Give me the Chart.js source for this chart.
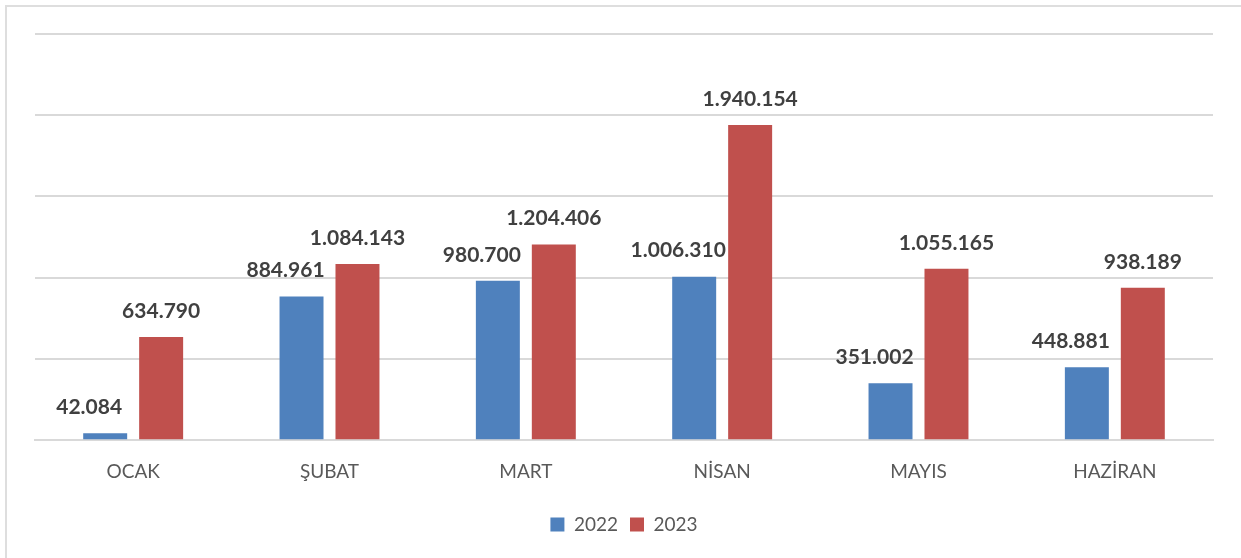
<!DOCTYPE html>
<html>
<head>
<meta charset="utf-8">
<script src="https://cdn.jsdelivr.net/npm/chart.js@4.4.1/dist/chart.umd.min.js"></script>
<style>
  html, body { margin: 0; padding: 0; background: #ffffff; overflow: hidden; }
  #frame {
    position: absolute;
    left: 5px;
    top: 5px;
    width: 1260px;
    height: 580px;
    border-top: 2px solid #dedede;
    border-left: 2px solid #dedede;
  }
  #wrap { position: absolute; left: 0; top: 0; width: 1241px; height: 558px; }
</style>
</head>
<body>
<div id="frame"></div>
<div id="wrap"><canvas id="chart"></canvas></div>
<script>
const months = ["OCAK", "ŞUBAT", "MART", "NİSAN", "MAYIS", "HAZİRAN"];
const values2022 = [42084, 884961, 980700, 1006310, 351002, 448881];
const values2023 = [634790, 1084143, 1204406, 1940154, 1055165, 938189];
const seriesNames = ["2022", "2023"];

function formatNumber(value) {
  return String(value).replace(/\B(?=(\d{3})+(?!\d))/g, ".");
}

// etiketleri barlarin ustune yaz
const valueLabels = {
  id: "valueLabels",
  afterDatasetsDraw(chart) {
    const { ctx } = chart;
    ctx.save();
    ctx.font = "bold 21px Lato, sans-serif";
    ctx.fillStyle = "#404040";
    ctx.textAlign = "center";
    ctx.textBaseline = "middle";
    chart.data.datasets.forEach((dataset, di) => {
      const meta = chart.getDatasetMeta(di);
      const shift = di === 0 ? -16 : 0;
      meta.data.forEach((bar, i) => {
        ctx.fillText(formatNumber(dataset.data[i]), bar.x + shift, bar.y - 26);
      });
    });
    ctx.restore();
  },
};

new Chart(document.getElementById("chart"), {
  type: "bar",
  data: {
    labels: months,
    datasets: [
      {
        label: seriesNames[0],
        data: values2022,
        backgroundColor: "#4f81bd",
        categoryPercentage: 0.57,
        barPercentage: 0.786,
      },
      {
        label: seriesNames[1],
        data: values2023,
        backgroundColor: "#c0504d",
        categoryPercentage: 0.57,
        barPercentage: 0.786,
      },
    ],
  },
  plugins: [valueLabels],
  options: {
    responsive: true,
    maintainAspectRatio: false,
    animation: false,
    layout: {
      padding: { left: 35, right: 28, top: 34, bottom: 14 },
    },
    scales: {
      x: {
        grid: { display: false, drawTicks: false },
        border: { color: "#d9d9d9", width: 2 },
        ticks: {
          color: "#595959",
          padding: 20,
          font: { family: "Lato, sans-serif", size: 19 },
        },
      },
      y: {
        min: 0,
        max: 2500000,
        border: { display: false },
        grid: { color: "#d9d9d9", lineWidth: 2, drawTicks: false },
        ticks: { display: false, stepSize: 500000 },
      },
    },
    plugins: {
      legend: {
        position: "bottom",
        labels: {
          boxWidth: 14,
          boxHeight: 14,
          padding: 12,
          color: "#595959",
          font: { family: "Lato, sans-serif", size: 19 },
        },
      },
      tooltip: { enabled: false },
    },
  },
});
</script>
</body>
</html>
